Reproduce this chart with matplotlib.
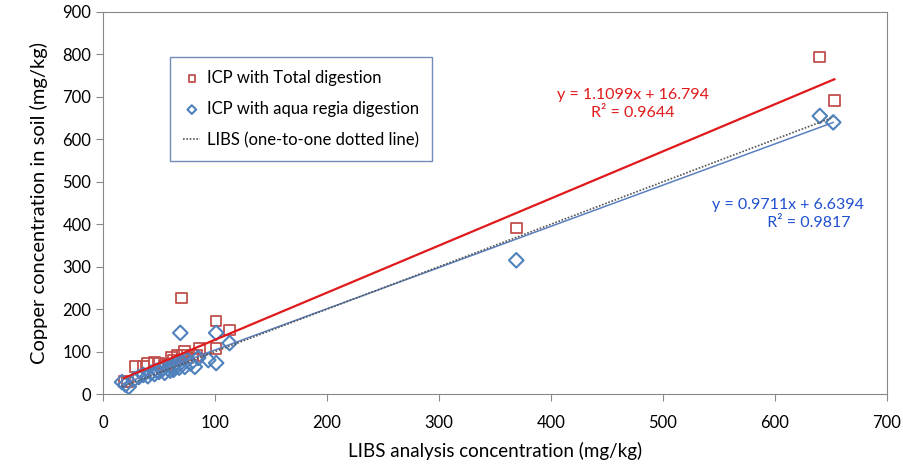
import matplotlib
matplotlib.use("Agg")
import matplotlib.pyplot as plt
import numpy as np

# ICP with total digestion (LIBS x, ICP y)
total_x = [19, 22, 29, 36, 40, 46, 50, 55, 58, 61, 63, 66, 70, 71, 73, 76, 80, 84, 86, 101, 101, 113, 369, 640, 653]
total_y = [30, 28, 64, 66, 71, 75, 72, 68, 70, 87, 80, 92, 226, 90, 101, 85, 92, 90, 108, 108, 172, 151, 391, 794, 692]

# ICP with aqua regia digestion
aqua_x = [17, 20, 23, 28, 32, 36, 40, 43, 46, 48, 50, 53, 55, 58, 60, 62, 63, 65, 68, 69, 70, 73, 75, 78, 82, 85, 94, 101, 101, 113, 369, 640, 652]
aqua_y = [28, 22, 17, 35, 40, 45, 42, 50, 47, 55, 52, 58, 50, 60, 55, 65, 57, 70, 62, 144, 75, 64, 80, 72, 64, 85, 80, 73, 144, 120, 315, 655, 640]

# trendline coefficients (slope, intercept) as printed on the chart
total_fit = (1.1099, 16.794)
aqua_fit = (0.9711, 6.6394)

plt.rcParams["font.family"] = ["Lato", "DejaVu Sans"]

fig = plt.figure(figsize=(9.04, 4.65), dpi=100)
ax = fig.add_axes([103 / 904, 1 - 394 / 465, 784 / 904, 382 / 465])

red_edge = "#C0504D"
blue_edge = "#4F81BD"

ax.scatter(total_x, total_y, marker="s", s=60, facecolors="none",
           edgecolors=red_edge, linewidths=1.3, zorder=3,
           label="ICP with Total digestion")
ax.scatter(aqua_x, aqua_y, marker="D", s=55, facecolors="none",
           edgecolors=blue_edge, linewidths=1.5, zorder=3,
           label="ICP with aqua regia digestion")

xs = np.array([min(total_x), max(total_x)])
ax.plot(xs, total_fit[0] * xs + total_fit[1], color="#E0191B", lw=1.6, zorder=4)
xa = np.array([min(aqua_x), max(aqua_x)])
ax.plot(xa, aqua_fit[0] * xa + aqua_fit[1], color="#5B80C0", lw=1.1, zorder=4)
ax.plot(xa, xa, color="#555555", lw=1.2, ls=(0, (1, 1)), zorder=4,
        label="LIBS (one-to-one dotted line)")

# equation labels placed in figure pixels (origin bottom-left)
ax.text(633, 465 - 104, "y = 1.1099x + 16.794\nR² = 0.9644", transform=None,
        color="#E0191B", fontsize=11.5, ha="center", va="center",
        linespacing=1.35)
ax.text(788, 465 - 214, "y = 0.9711x + 6.6394\n          R² = 0.9817", transform=None,
        color="#2050D0", fontsize=11.5, ha="center", va="center",
        linespacing=1.35)

ax.set_xlim(0, 700)
ax.set_ylim(0, 900)
ax.set_xticks(range(0, 701, 100))
ax.set_yticks(range(0, 901, 100))
for sp in ax.spines.values():
    sp.set_color("#888888")
ax.tick_params(colors="#888888", labelcolor="black", labelsize=12,
               direction="out", length=5)
ax.tick_params(axis="x", pad=10)

ax.set_xlabel("LIBS analysis concentration (mg/kg)", fontsize=13.5, labelpad=8)
ax.set_ylabel("Copper concentration in soil (mg/kg)", fontsize=14.5, labelpad=10)

leg = ax.legend(loc="upper left", bbox_to_anchor=(0.075, 0.905), fontsize=12,
                frameon=True, fancybox=False, handlelength=1.0,
                handletextpad=0.4, markerscale=0.6, borderpad=0.8,
                labelspacing=0.9)
leg.get_frame().set_edgecolor("#4F6FA8")
leg.get_frame().set_linewidth(1.0)

fig.savefig("out.png", dpi=100)
